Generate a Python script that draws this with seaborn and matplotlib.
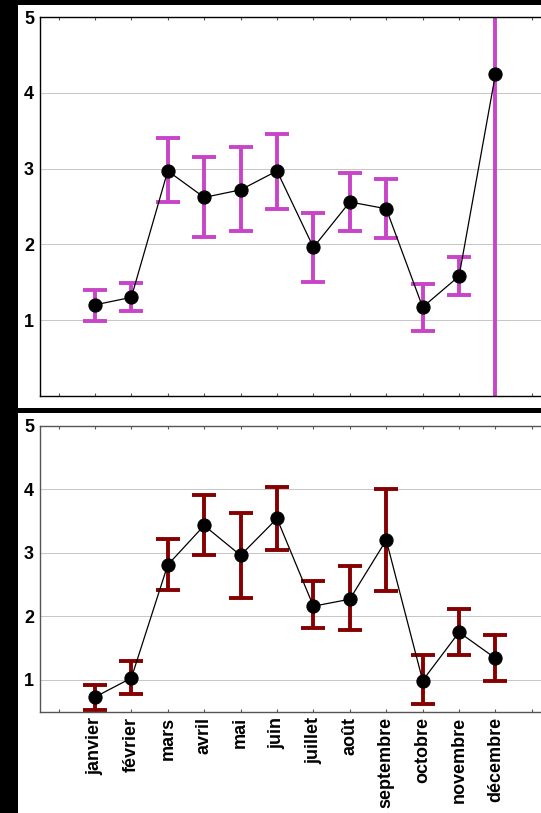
import matplotlib
matplotlib.use("Agg")
import matplotlib.pyplot as plt
from matplotlib.patches import Rectangle
import numpy as np
import pandas as pd
import seaborn as sns

# Month labels (x positions 1..12)
mois = ["janvier", "février", "mars", "avril", "mai", "juin", "juillet",
        "août", "septembre", "octobre", "novembre", "décembre"]

# Upper series: mean with lower / upper bounds
haut_moy = [1.20, 1.30, 2.97, 2.62, 2.72, 2.97, 1.96, 2.56, 2.47, 1.17, 1.58, 4.25]
haut_bas = [0.99, 1.12, 2.56, 2.10, 2.17, 2.47, 1.50, 2.18, 2.08, 0.86, 1.33, -2.0]
haut_sup = [1.40, 1.49, 3.40, 3.16, 3.28, 3.46, 2.41, 2.94, 2.86, 1.48, 1.83, 10.0]

# Lower series: mean with lower / upper bounds
bas_moy = [0.73, 1.03, 2.81, 3.43, 2.96, 3.54, 2.16, 2.27, 3.20, 0.99, 1.75, 1.34]
bas_bas = [0.52, 0.78, 2.41, 2.96, 2.29, 3.04, 1.82, 1.78, 2.40, 0.62, 1.39, 0.99]
bas_sup = [0.92, 1.29, 3.21, 3.91, 3.62, 4.03, 2.55, 2.79, 4.00, 1.39, 2.11, 1.70]

sns.set_theme(style="white")
plt.rcParams["font.family"] = ["Liberation Sans", "DejaVu Sans"]
plt.rcParams["font.weight"] = "bold"
plt.rcParams["text.color"] = "black"

W, H = 541, 813
fig = plt.figure(figsize=(W / 100, H / 100), dpi=100, facecolor="black")

# white panel backgrounds on the black page (drawn beneath the axes)
fig.patches.append(Rectangle((18 / W, 1 - 408 / H), 1, (408 - 5) / H,
                             transform=fig.transFigure, facecolor="white",
                             edgecolor="none", zorder=-5))
fig.patches.append(Rectangle((18 / W, 0), 1, 1 - 413 / H,
                             transform=fig.transFigure, facecolor="white",
                             edgecolor="none", zorder=-5))

left = 40.3 / W
width = 1 - left
ax1 = fig.add_axes([left, 1 - 395.7 / H, width, (395.7 - 17.3) / H])
ax2 = fig.add_axes([left, 1 - 711.7 / H, width, (711.7 - 425.7) / H])

positions = np.arange(1, len(mois) + 1)


def panel(ax, moy, bas, sup, couleur, ylim, spine_color):
    moy = np.asarray(moy)
    df = pd.DataFrame({"x": positions, "y": moy})
    ax.set_facecolor("none")
    ax.errorbar(positions, moy,
                yerr=[moy - np.asarray(bas), np.asarray(sup) - moy],
                fmt="none", ecolor=couleur, elinewidth=2.8,
                capsize=8.3, capthick=2.8, zorder=2)
    sns.lineplot(data=df, x="x", y="y", ax=ax, color="black", lw=0.9,
                 marker="o", markersize=9.5, markeredgecolor="black",
                 zorder=3)
    ax.set_xlim(-0.5, 13.25)
    ax.set_ylim(*ylim)
    ax.set_yticks([1, 2, 3, 4, 5])
    ax.set_yticklabels(["1", "2", "3", "4", "5"], fontsize=13,
                       fontweight="bold")
    ax.set_xticks(np.arange(0, 14))
    ax.grid(axis="y", color="#bdbdbd", lw=0.6)
    ax.set_axisbelow(True)
    ax.tick_params(axis="y", length=0, pad=4.5, labelcolor="black")
    ax.tick_params(axis="x", direction="in", length=2.5, width=0.8,
                   color="#555555", labelcolor="black", top=True,
                   bottom=True)
    ax.set_xlabel("")
    ax.set_ylabel("")
    for side in ["left", "bottom", "top"]:
        ax.spines[side].set_color(spine_color)
        ax.spines[side].set_linewidth(1.0)
        ax.spines[side].set_visible(True)
    ax.spines["right"].set_visible(False)


panel(ax1, haut_moy, haut_bas, haut_sup, "#c844c8", (0, 5), "black")
panel(ax2, bas_moy, bas_bas, bas_sup, "#850000", (0.5, 5), "#555555")

ax1.set_xticklabels([""] * 14)
ax2.set_xticklabels([""] + mois + [""], rotation=90, fontsize=13,
                    fontweight="bold", va="top", ha="center", color="black")
ax2.tick_params(axis="x", pad=4)

fig.savefig("out.png", dpi=100, facecolor="black")
